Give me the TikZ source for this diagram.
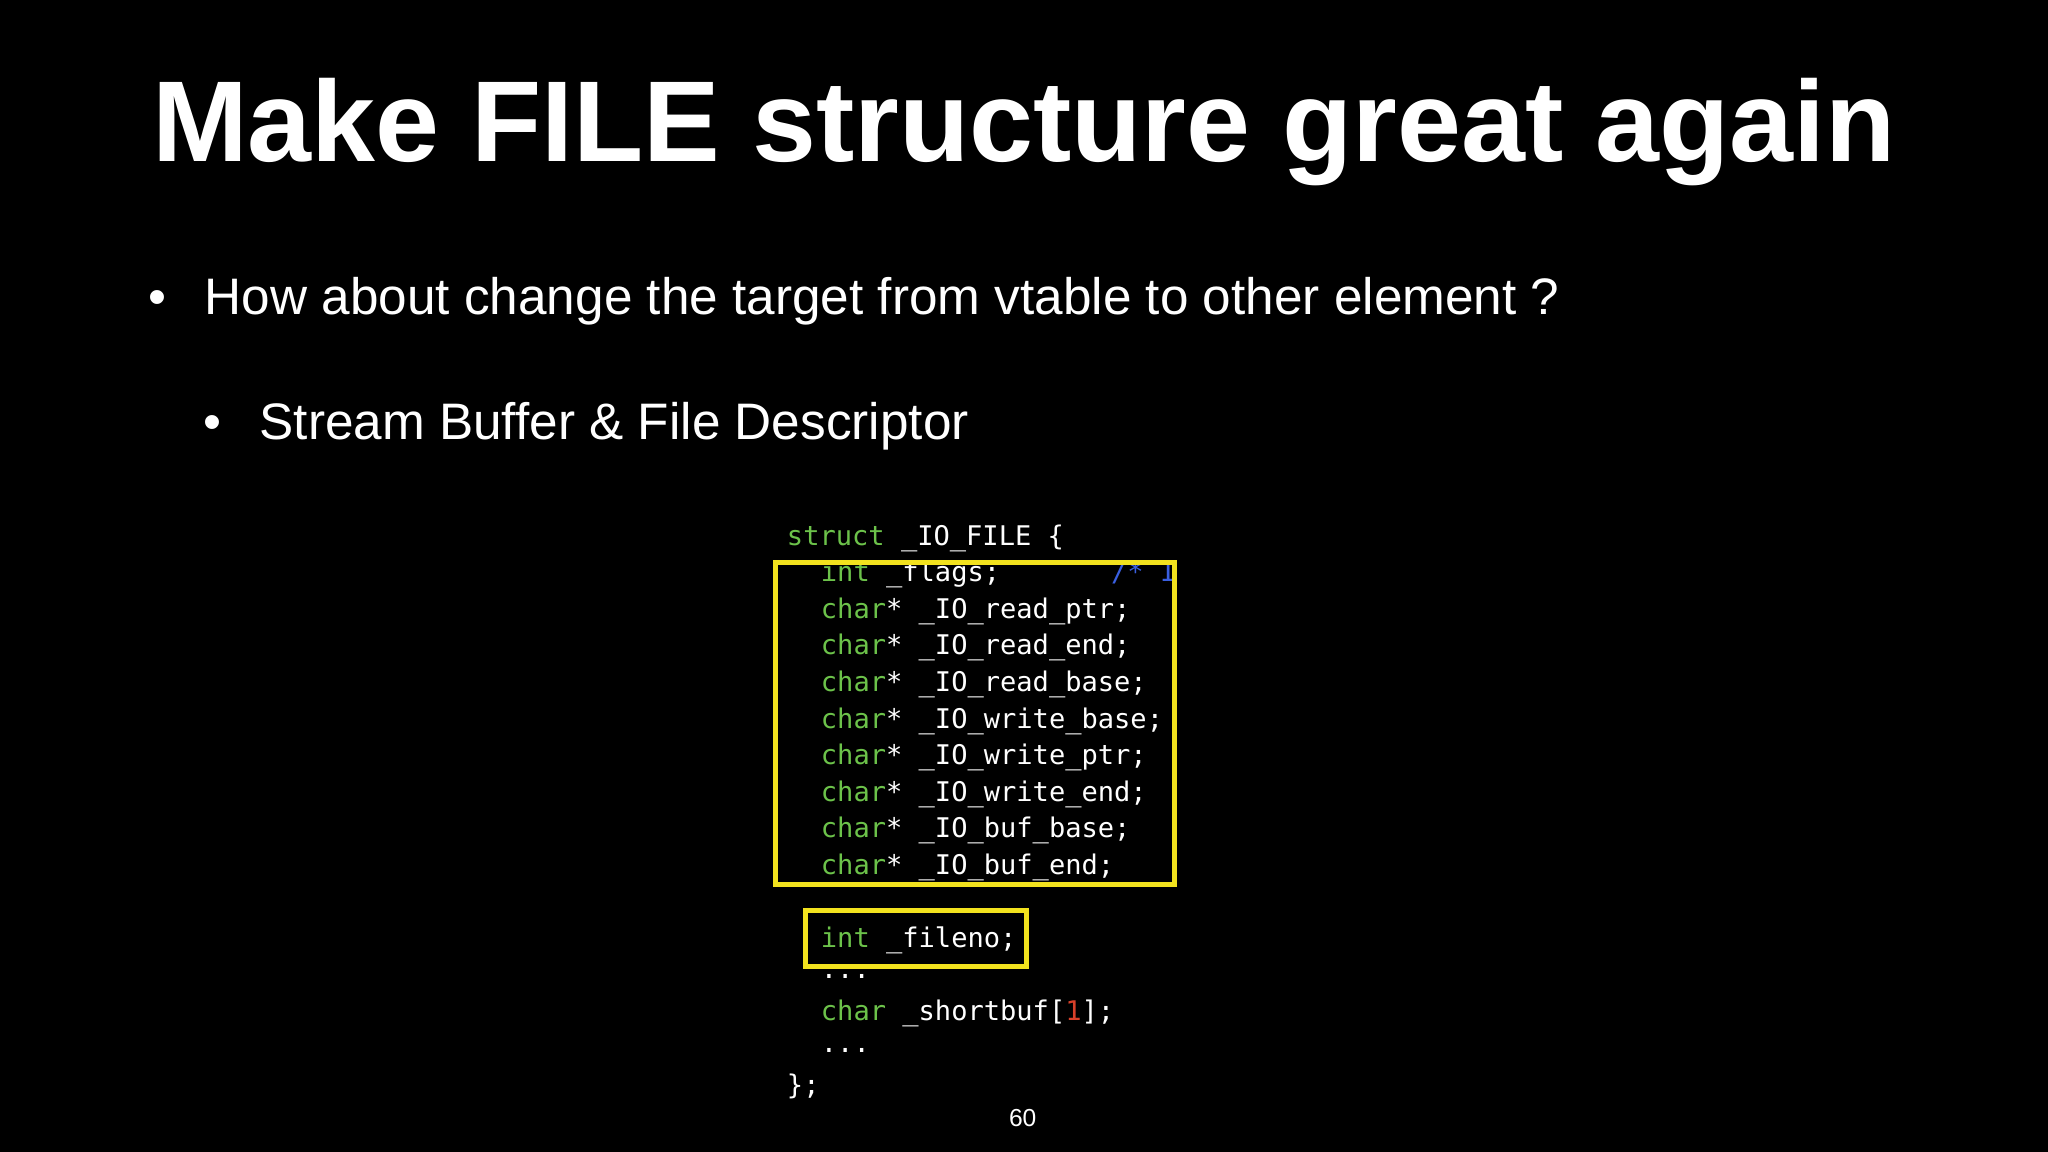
\documentclass[tikz,border=0pt]{standalone}
\usepackage{fontspec}
\setmainfont{Liberation Sans}
\newfontfamily\codefont{DejaVu Sans Mono}
\usetikzlibrary{positioning}
\definecolor{kwgreen}{HTML}{6CC24A}
\definecolor{boxyellow}{HTML}{F2E21E}
\definecolor{cmtblue}{HTML}{3A5FE0}
\definecolor{numred}{HTML}{D8402A}
\tikzset{
  codeline/.style={anchor=west, inner sep=0pt, text=white, font=\codefont\fontsize{7.7}{9}\selectfont},
  hilite/.style={draw=boxyellow, line width=1.4pt},
}
\newcommand{\kw}[1]{\textcolor{kwgreen}{#1}}
\begin{document}
\begin{tikzpicture}[x=0.01306cm,y=-0.01306cm]
  \fill[black] (0,0) rectangle (1568,882);
  \node[anchor=west, inner sep=0pt, text=white, font=\bfseries\fontsize{32.7}{38}\selectfont] (title) at (116,101) {Make FILE structure great again};
  \node[anchor=west, inner sep=0pt, text=white, font=\fontsize{14.6}{17}\selectfont] (bulletA) at (113,231) {\textbullet\hspace{0.75em}How about change the target from vtable to other element ?};
  \node[anchor=west, inner sep=0pt, text=white, font=\fontsize{14.6}{17}\selectfont] (bulletB) at (155,326) {\textbullet\hspace{0.75em}Stream Buffer \& File Descriptor};
  % struct listing
  \node[codeline] (open) at (602,412) {\kw{struct} \_IO\_FILE \{};
  \node[codeline] (flags) at (628,440) {\kw{int} \_flags;\hspace{4.1em}\textcolor{cmtblue}{/* I}};
  \foreach \field [count=\i] in {\_IO\_read\_ptr,\_IO\_read\_end,\_IO\_read\_base,\_IO\_write\_base,\_IO\_write\_ptr,\_IO\_write\_end,\_IO\_buf\_base,\_IO\_buf\_end}
    \node[codeline] (ptr\i) at (628,440+28*\i) {\kw{char}* \field;};
  \node[codeline] (fileno) at (628,720) {\kw{int} \_fileno;};
  \node[codeline] (dotsA) at (628,748) {...};
  \node[codeline] (shortbuf) at (628,776) {\kw{char} \_shortbuf[\textcolor{numred}{1}];};
  \node[codeline] (dotsB) at (628,804) {...};
  \node[codeline] (close) at (602,832) {\};};
  \draw[hilite] (594,431) rectangle (899,677);
  \draw[hilite] (617,697) rectangle (786,740);
  \node[inner sep=0pt, text=white, font=\fontsize{7}{8}\selectfont] (page) at (783,856) {60};
\end{tikzpicture}
\end{document}
